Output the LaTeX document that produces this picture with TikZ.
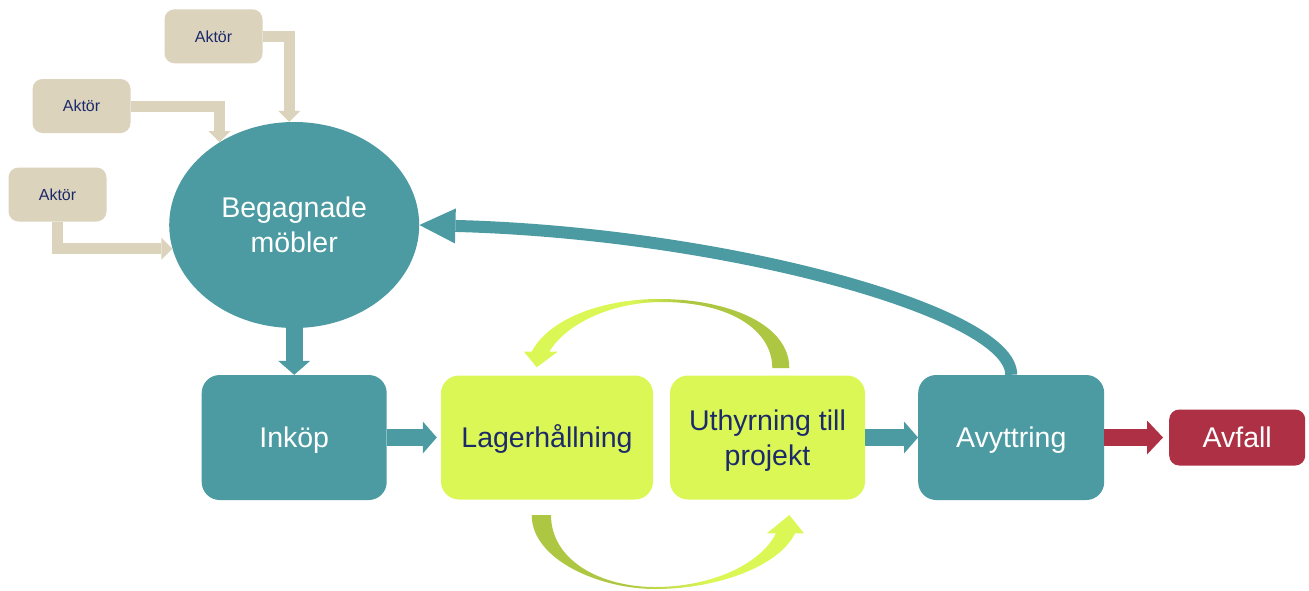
\documentclass[tikz,border=0pt]{standalone}
\usepackage{fontspec}
\setmainfont{Liberation Sans}
\usetikzlibrary{arrows.meta,shapes.geometric,calc}
\definecolor{tealC}{RGB}{76,155,162}
\definecolor{beigeC}{RGB}{220,211,189}
\definecolor{navyC}{RGB}{28,42,106}
\definecolor{limeC}{RGB}{219,247,86}
\definecolor{oliveC}{RGB}{174,199,66}
\definecolor{redC}{RGB}{174,48,69}
\pgfdeclarehorizontalshading{limeToOlive}{100bp}{color(0bp)=(limeC); color(45bp)=(limeC); color(55bp)=(oliveC); color(100bp)=(oliveC)}
\pgfdeclarehorizontalshading{oliveToLime}{100bp}{color(0bp)=(oliveC); color(42bp)=(oliveC); color(58bp)=(limeC); color(100bp)=(limeC)}
\tikzset{
  bigfont/.style={font=\fontsize{28.5}{34.5}\selectfont},
  abox/.style={fill=beigeC, rounded corners=10pt, minimum width=98pt, minimum height=54pt, inner sep=0pt,
    text=navyC, font=\fontsize{16}{19}\selectfont, text height=11.4pt, text depth=0pt},
  tbox/.style={fill=tealC, rounded corners=18pt, inner sep=0pt, text=white, bigfont, text height=20.8pt, text depth=0pt},
  lbox/.style={fill=limeC, rounded corners=18pt, inner sep=0pt, text=navyC, bigfont, text depth=0pt},
  rbox/.style={fill=redC, rounded corners=10pt, inner sep=0pt, text=white, bigfont, text height=20.8pt, text depth=0pt},
  ellnode/.style={ellipse, fill=tealC, inner sep=0pt, text=white, bigfont, align=center},
  tarrow/.style={draw=tealC, line width=17pt, -{Triangle[width=32pt,length=14pt,line width=0pt]}},
  rarrow/.style={draw=redC, line width=17pt, -{Triangle[width=34pt,length=16pt,line width=0pt]}},
  barrow/.style={draw=beigeC, line width=11pt, line join=miter, -{Triangle[width=22pt,length=11pt,line width=0pt]}},
  retarrow/.style={draw=tealC, line width=12pt, -{Triangle[width=35pt,length=36pt,line width=0pt]}},
}
\begin{document}
\begin{tikzpicture}[x=1pt,y=-1pt]
\useasboundingbox (0,0) rectangle (1309,590);
% nodes
\node[abox] (a1) at (213.5,36.3) {Aktör};
\node[abox] (a2) at (81.5,106) {Aktör};
\node[abox] (a3) at (57.5,194.5) {Aktör};
\node[ellnode, minimum width=250pt, minimum height=206pt] (beg) at (294.2,225) {Begagnade\\möbler};
\node[tbox, minimum width=185pt, minimum height=125pt] (ink) at (294.2,437.5) {Inköp};
\node[lbox, minimum width=212pt, minimum height=124pt, text height=20.8pt] (lag) at (547,437.5) {Lagerhållning};
\node[lbox, minimum width=195pt, minimum height=124pt, align=center, text depth=-4pt] (uth) at (767.5,437.5) {Uthyrning till\\projekt};
\node[tbox, minimum width=186pt, minimum height=125pt] (avy) at (1011.2,437.5) {Avyttring};
\node[rbox, minimum width=136pt, minimum height=56pt] (avf) at (1237.2,437.5) {Avfall};
% beige actor arrows
\draw[barrow] (a1.east) -| ([xshift=-5pt]beg.north);
\draw[barrow] (a2.east) -| (beg.132);
\draw[barrow] (a3.south) |- (beg.191);
% main flow arrows
\draw[tarrow] (beg.south) -- (ink.north);
\draw[tarrow] (ink.east) -- ([xshift=-4pt]lag.west);
\draw[tarrow] (uth.east) -- (avy.west);
\draw[rarrow] (avy.east) -- ([xshift=-6pt]avf.west);
% return arrow
\draw[retarrow] (avy.north) .. controls (1012,312) and (725,233) .. (beg.east);
% lime curved arrows
\shade[shading=limeToOlive]
  (789.3,368) .. controls (789.3,325) and (730,299) .. (659,299)
  .. controls (600,299) and (548,320) .. (531.7,351.7)
  -- (524,351.7) -- (536.7,367.3) -- (557.7,351.7) -- (549.3,351.7)
  .. controls (565,325) and (610,302) .. (662,302)
  .. controls (730,302) and (772.3,330) .. (772.3,368) -- cycle;
\shade[shading=oliveToLime]
  (531.7,515) .. controls (531.7,560) and (600,589) .. (655,589)
  .. controls (720,589) and (780,565) .. (795,533.3)
  -- (804,533.3) -- (789.3,515) -- (767,533.3) -- (776,533.3)
  .. controls (760,565) and (710,587) .. (655,587)
  .. controls (600,587) and (551,560) .. (551,515) -- cycle;
\end{tikzpicture}
\end{document}
